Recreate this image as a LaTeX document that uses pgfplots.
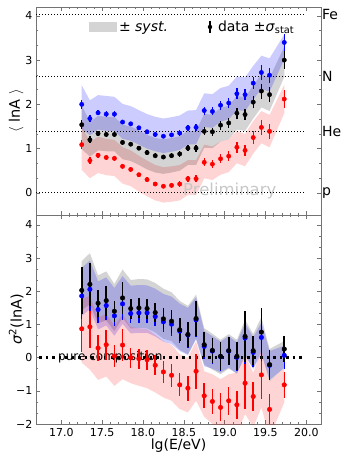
\documentclass[border=0pt]{standalone}
\usepackage{fontspec}
\setmainfont{DejaVu Sans}
\usepackage{pgfplots}
\pgfplotsset{compat=1.18}
\usepackage{pgfplotstable}
\usepgfplotslibrary{fillbetween}

\pgfplotstableread{
x     k     b     r     e     kl    ku    bl    bu    rl    ru
17.25 1.54  2.00  1.09  0.10  0.99  1.97  1.45  2.43  0.52  1.52
17.35 1.20  1.68  0.73  0.08  0.82  1.60  1.30  2.09  0.33  1.14
17.45 1.34  1.81  0.85  0.06  0.96  1.74  1.43  2.21  0.45  1.27
17.55 1.32  1.78  0.80  0.06  0.94  1.72  1.40  2.19  0.40  1.22
17.65 1.32  1.78  0.78  0.06  0.94  1.72  1.40  2.17  0.38  1.20
17.75 1.14  1.60  0.60  0.05  0.76  1.54  1.22  2.01  0.21  1.03
17.85 1.10  1.56  0.53  0.05  0.72  1.50  1.18  1.96  0.15  0.96
17.95 1.01  1.47  0.41  0.05  0.63  1.41  1.09  1.87  0.03  0.84
18.05 0.91  1.38  0.30  0.05  0.53  1.31  1.00  1.78  -0.08 0.73
18.15 0.84  1.32  0.20  0.05  0.46  1.24  0.94  1.72  -0.17 0.63
18.25 0.81  1.28  0.15  0.05  0.43  1.21  0.90  1.68  -0.22 0.58
18.35 0.84  1.31  0.17  0.05  0.46  1.24  0.93  1.71  -0.20 0.60
18.45 0.88  1.35  0.20  0.06  0.50  1.28  0.97  1.75  -0.17 0.63
18.55 1.01  1.47  0.32  0.07  0.63  1.40  1.09  1.86  -0.05 0.74
18.65 1.01  1.48  0.32  0.08  0.63  1.40  1.10  1.87  -0.05 0.74
18.75 1.39  1.86  0.69  0.09  1.02  1.78  1.49  2.25  0.33  1.09
18.85 1.38  1.84  0.65  0.09  1.01  1.77  1.47  2.23  0.29  1.05
18.95 1.53  1.98  0.77  0.10  1.16  1.92  1.61  2.37  0.41  1.16
19.05 1.58  2.03  0.83  0.11  1.21  1.97  1.66  2.42  0.47  1.21
19.15 1.80  2.24  1.03  0.12  1.43  2.19  1.87  2.63  0.67  1.40
19.25 1.77  2.22  0.96  0.13  1.40  2.16  1.85  2.61  0.60  1.33
19.35 2.05  2.48  1.25  0.14  1.68  2.43  2.11  2.87  0.89  1.62
19.45 2.30  2.72  1.48  0.17  1.93  2.68  2.35  3.10  1.12  1.85
19.55 2.22  2.66  1.39  0.17  1.85  2.60  2.29  3.04  1.03  1.76
19.73 3.00  3.40  2.12  0.20  2.62  3.30  3.02  3.58  1.80  2.44
}\toptab

\pgfplotstableread{
x     k     b     r     e     kl    ku    bl    bu    rl    ru
17.25 2.03  1.86  0.87  0.70  1.43  2.91  1.26  2.70  -0.15 1.79
17.35 2.21  2.06  0.93  0.65  1.61  3.15  1.46  2.93  -0.36 1.85
17.45 1.64  1.45  0.29  0.40  1.04  2.48  0.85  2.30  -0.67 1.21
17.55 1.72  1.57  0.39  0.45  1.12  2.60  0.97  2.42  -0.57 1.31
17.65 1.40  1.26  0.05  0.32  0.80  2.22  0.66  2.10  -0.85 0.97
17.75 1.80  1.62  0.38  0.48  1.20  2.66  1.02  2.46  -0.65 1.30
17.85 1.48  1.33  0.00  0.30  0.88  2.34  0.73  2.17  -0.77 0.92
17.95 1.50  1.35  -0.03 0.30  0.90  2.37  0.75  2.19  -0.85 0.89
18.05 1.48  1.35  -0.06 0.30  0.88  2.36  0.75  2.18  -0.92 0.86
18.15 1.36  1.24  -0.23 0.30  0.76  2.25  0.64  2.08  -1.05 0.69
18.25 1.17  1.08  -0.43 0.32  0.57  2.08  0.48  1.92  -1.20 0.49
18.35 1.10  1.01  -0.53 0.35  0.50  1.97  0.41  1.84  -1.30 0.39
18.45 0.84  0.80  -0.82 0.35  0.24  1.71  0.20  1.63  -1.55 0.10
18.55 0.70  0.68  -0.92 0.38  0.10  1.56  0.08  1.50  -1.65 0.00
18.65 1.18  1.14  -0.41 0.52  0.58  1.90  0.55  1.82  -1.30 0.49
18.75 0.39  0.34  -1.15 0.38  -0.21 0.89  -0.26 0.80  -1.78 -0.41
18.85 0.22  0.20  -1.32 0.38  -0.36 0.72  -0.33 0.65  -2.00 -0.50
18.95 0.04  0.03  -1.50 0.42  -0.50 0.54  -0.45 0.48  -2.30 -0.65
19.05 0.21  0.20  -1.30 0.42  -0.33 0.71  -0.30 0.65  -2.20 -0.50
19.15 0.04  0.01  -1.42 0.42  -0.48 0.54  -0.48 0.46  -2.30 -0.45
19.25 0.64  0.59  -0.77 0.78  0.06  1.14  0.07  1.04  -1.70 0.09
19.35 0.21  0.16  -1.17 0.43  -0.33 0.71  -0.34 0.61  -2.10 -0.46
19.45 0.77  0.61  -0.52 0.72  0.22  1.22  0.11  1.06  -1.50 0.24
19.55 -0.21 -0.23 -1.56 0.45  -0.72 0.26  -0.67 0.20  -2.40 -0.72
19.73 0.26  0.07  -0.82 0.40  -0.30 0.50  -0.31 0.36  -1.35 -0.31
}\lowtab

\pgfplotsset{
  panel/.style={
    scale only axis, width=285pt,
    xmin=16.69, xmax=20.18,
    axis line style={black!55, line width=0.8pt},
    tick align=inside,
    major tick length=4pt, minor tick length=2pt,
    tick style={black!55, line width=0.6pt},
    xtick={17,17.5,18,18.5,19,19.5,20},
    minor x tick num=4, minor y tick num=2,
    tick label style={font=\fontsize{11}{13}\selectfont},
    yticklabel style={inner sep=0pt, xshift=-3.5pt},
    xticklabel style={inner sep=0pt, yshift=-4.5pt},
    ylabel style={at={(axis description cs:-0.043,0.5)}, anchor=south, inner sep=0pt, font=\fontsize{14.5}{16}\selectfont},
  },
  pts/.style 2 args={only marks, mark=*, mark size=#1, forget plot, color=#2,
    error bars/y dir=both, error bars/y explicit, error bars/error mark=none},
}

\begin{document}
\begin{tikzpicture}

% ---------------- top panel ----------------
\begin{axis}[panel, name=top, at={(0pt,0pt)}, anchor=north west,
  height=208pt, ymin=-0.5, ymax=4.2, clip=false,
  ytick={0,1,2,3,4}, yticklabels={0,1,2,3,4},
  xticklabels={},
  ylabel={$\langle$ lnA $\rangle$},
  legend style={at={(rel axis cs:0.186,0.904)}, anchor=west, draw=none, fill=none,
    inner sep=0pt, outer sep=0pt,
    font=\fontsize{14}{16}\selectfont, legend columns=2,
    /tikz/every even column/.append style={column sep=26pt}},
  legend cell align=left,
]
\node[anchor=base west, inner sep=0pt, text=black!22, font=\fontsize{16.5}{18}\selectfont] at (axis cs:18.49,-0.05) {Preliminary};

\addplot[forget plot, black, line width=1pt, dash pattern=on 1pt off 2pt] coordinates {(16.69,0) (19.98,0)};
\addplot[forget plot, black, line width=1pt, dash pattern=on 1pt off 2pt] coordinates {(16.69,1.386) (19.98,1.386)};
\addplot[forget plot, black, line width=1pt, dash pattern=on 1pt off 2pt] coordinates {(16.69,2.639) (19.98,2.639)};
\addplot[forget plot, black, line width=1pt, dash pattern=on 1pt off 2pt] coordinates {(16.69,4.025) (19.98,4.025)};

\addplot[name path=tru, draw=none, forget plot] table[x=x,y=ru]{\toptab};
\addplot[name path=trl, draw=none, forget plot] table[x=x,y=rl]{\toptab};
\addplot[fill=red, fill opacity=0.17, draw=none, forget plot] fill between[of=tru and trl];
\addplot[name path=tku, draw=none, forget plot] table[x=x,y=ku]{\toptab};
\addplot[name path=tkl, draw=none, forget plot] table[x=x,y=kl]{\toptab};
\addplot[fill=black, fill opacity=0.17, draw=none, forget plot] fill between[of=tku and tkl];
\addplot[name path=tbu, draw=none, forget plot] table[x=x,y=bu]{\toptab};
\addplot[name path=tbl, draw=none, forget plot] table[x=x,y=bl]{\toptab};
\addplot[fill=blue, fill opacity=0.2, draw=none, forget plot] fill between[of=tbu and tbl];

\addplot[pts={2.2pt}{red}, error bars/error bar style={line width=1.3pt, red}] table[x=x,y=r,y error=e]{\toptab};
\addplot[pts={2.2pt}{black}, error bars/error bar style={line width=1.3pt, black}] table[x=x,y=k,y error=e]{\toptab};
\addplot[pts={2.2pt}{blue}, error bars/error bar style={line width=1.3pt, blue}] table[x=x,y=b,y error=e]{\toptab};

\addlegendimage{legend image code/.code={\fill[black!17, draw=none] (0pt,-5pt) rectangle (28pt,5pt);}}
\addlegendentry{± \textit{syst.}}
\addlegendimage{legend image code/.code={\path[draw=none, fill=none] (0pt,-6pt) rectangle (20pt,6pt);
  \draw[black, line width=1.3pt] (14pt,-6pt) -- (14pt,6pt);
  \fill[black, draw=none] (14pt,0pt) circle (2.2pt);}}
\addlegendentry{data ±\textit{σ}\textsubscript{stat}}

\node[anchor=west, inner sep=1pt, font=\fontsize{14}{16}\selectfont] at (axis cs:20.18,4.025) {Fe};
\node[anchor=west, inner sep=1pt, font=\fontsize{14}{16}\selectfont] at (axis cs:20.18,2.639) {N};
\node[anchor=west, inner sep=1pt, font=\fontsize{14}{16}\selectfont] at (axis cs:20.18,1.386) {He};
\node[anchor=west, inner sep=1pt, font=\fontsize{14}{16}\selectfont] at (axis cs:20.18,0) {p};
\end{axis}

% ---------------- lower panel ----------------
\begin{axis}[panel, name=low, at={(0pt,-208pt)}, anchor=north west,
  height=209pt, ymin=-2, ymax=4.3,
  ytick={-2,-1,0,1,2,3,4}, yticklabels={−2,−1,0,1,2,3,4},
  xticklabels={17.0,17.5,18.0,18.5,19.0,19.5,20.0},
  ylabel={\textit{σ}\textsuperscript{2}(lnA)},
  xlabel={lg(E/eV)},
  xlabel style={at={(axis description cs:0.5,0)}, anchor=north, inner sep=0pt, yshift=-14.5pt, font=\fontsize{14}{16}\selectfont},
]
\addplot[forget plot, black, line width=2.5pt, dash pattern=on 2.5pt off 4pt] coordinates {(16.73,0) (19.98,0)};
\node[anchor=west, inner sep=0pt, font=\fontsize{12}{14}\selectfont] at (axis cs:16.96,0) {pure composition};

\addplot[name path=lku, draw=none, forget plot] table[x=x,y=ku]{\lowtab};
\addplot[name path=lkl, draw=none, forget plot] table[x=x,y=kl]{\lowtab};
\addplot[fill=black, fill opacity=0.17, draw=none, forget plot] fill between[of=lku and lkl];
\addplot[name path=lbu, draw=none, forget plot] table[x=x,y=bu]{\lowtab};
\addplot[name path=lbl, draw=none, forget plot] table[x=x,y=bl]{\lowtab};
\addplot[fill=blue, fill opacity=0.2, draw=none, forget plot] fill between[of=lbu and lbl];
\addplot[name path=lru, draw=none, forget plot] table[x=x,y=ru]{\lowtab};
\addplot[name path=lrl, draw=none, forget plot] table[x=x,y=rl]{\lowtab};
\addplot[fill=red, fill opacity=0.17, draw=none, forget plot] fill between[of=lru and lrl];

\addplot[pts={2.3pt}{red}, error bars/error bar style={line width=1.5pt, red}] table[x=x,y=r,y error=e]{\lowtab};
\addplot[pts={2.3pt}{blue}, error bars/error bar style={line width=1.5pt, blue}] table[x=x,y=b,y error=e]{\lowtab};
\addplot[pts={2.3pt}{black}, error bars/error bar style={line width=1.6pt, black}] table[x=x,y=k,y error=e]{\lowtab};
\end{axis}
\pgfresetboundingbox
\path[use as bounding box] (-36pt,7pt) rectangle (307pt,-445pt);
\end{tikzpicture}
\end{document}
